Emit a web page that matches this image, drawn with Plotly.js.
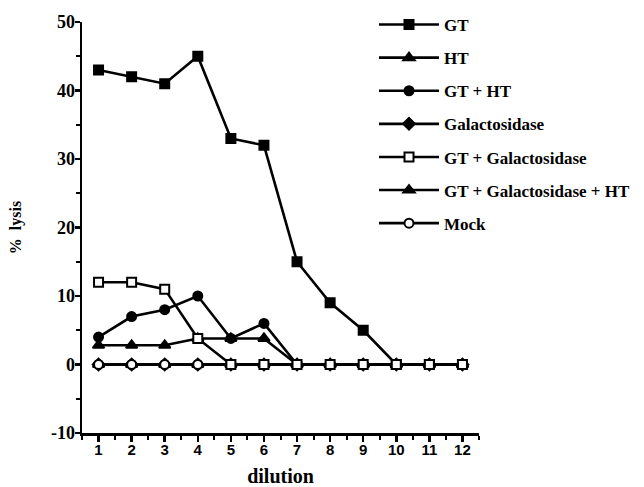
<!DOCTYPE html>
<html>
<head>
<meta charset="utf-8">
<script src="https://cdn.plot.ly/plotly-3.0.1.min.js"></script>
<style>html,body{margin:0;padding:0;background:#fff;}#chart{width:644px;height:487px;}</style>
</head>
<body>
<div id="chart"></div>
<script>
const dilution = [1, 2, 3, 4, 5, 6, 7, 8, 9, 10, 11, 12];
const gt = [43, 42, 41, 45, 33, 32, 15, 9, 5, 0, 0, 0];
const ht = [2.8, 2.8, 2.8, 3.8, 3.8, 3.8, 0, 0, 0, 0, 0, 0];
const gtHt = [4, 7, 8, 10, 3.8, 6, 0, 0, 0, 0, 0, 0];
const galactosidase = [0, 0, 0, 0, 0, 0, 0, 0, 0, 0, 0, 0];
const gtGal = [12, 12, 11, 3.8, 0, 0, 0, 0, 0, 0, 0, 0];
const gtGalHt = [0, 0, 0, 0, 0, 0, 0, 0, 0, 0, 0, 0];
const mock = [0, 0, 0, 0, 0, 0, 0, 0, 0, 0, 0, 0];
const seriesNames = ["GT", "HT", "GT + HT", "Galactosidase", "GT + Galactosidase", "GT + Galactosidase + HT", "Mock"];
const yTickVals = [-10, 0, 10, 20, 30, 40, 50];
const yTickText = ["-10", "0", "10", "20", "30", "40", "50"];
const xTickVals = [1, 2, 3, 4, 5, 6, 7, 8, 9, 10, 11, 12];

function tr(y, name, rank, symbol, fill) {
  return {
    x: dilution, y: y, name: name, type: 'scatter', mode: 'lines+markers',
    legendrank: rank, legendgroup: name,
    line: {color: '#000', width: 2.6},
    marker: {symbol: symbol, size: symbol.indexOf('triangle') === 0 ? 10 : 9, color: fill, line: {color: '#000', width: 2}}
  };
}
const data = [
  tr(gt, seriesNames[0], 1, 'square', '#000'),
  tr(ht, seriesNames[1], 2, 'triangle-up', '#000'),
  tr(gtHt, seriesNames[2], 3, 'circle', '#000'),
  tr(galactosidase, seriesNames[3], 4, 'diamond', '#000'),
  tr(gtGalHt, seriesNames[5], 6, 'triangle-up', '#000'),
  tr(mock, seriesNames[6], 7, 'circle', '#fff'),
  tr(gtGal, seriesNames[4], 5, 'square', '#fff')
];
const layout = {
  width: 644, height: 487,
  margin: {l: 82, r: 165, t: 22, b: 54, autoexpand: false},
  paper_bgcolor: '#fff', plot_bgcolor: '#fff',
  showlegend: true,
  legend: {
    xref: 'container', yref: 'container', x: 374/644, y: 1 - 7/487, xanchor: 'left', yanchor: 'top',
    font: {family: 'Liberation Serif, Times New Roman, serif', size: 17, color: '#000', weight: 'bold'},
    itemwidth: 60, tracegroupgap: 8, traceorder: 'grouped', bgcolor: 'rgba(0,0,0,0)'
  },
  xaxis: {
    range: [0.5, 12.5], tickvals: xTickVals, ticks: 'outside', ticklen: 6, tickwidth: 2.5, tickcolor: '#000',
    minor: {dtick: 0.5, tick0: 0.5, ticks: 'outside', ticklen: 4, tickwidth: 2, tickcolor: '#000'},
    showline: true, linewidth: 2.5, linecolor: '#000', showgrid: false, zeroline: false,
    ticklabelstandoff: -5,
    tickfont: {family: 'Liberation Sans, Arial, sans-serif', size: 15, color: '#000', weight: 'bold'},
    title: {text: '<b>dilution</b>', font: {family: 'Liberation Serif, Times New Roman, serif', size: 20, color: '#000'}, standoff: 16}
  },
  yaxis: {
    range: [-10, 50], tickvals: yTickVals, ticktext: yTickText, ticks: 'outside', ticklen: 5, tickwidth: 2.5, tickcolor: '#000',
    minor: {dtick: 5, tick0: 0, ticks: 'outside', ticklen: 4, tickwidth: 2, tickcolor: '#000'},
    showline: true, linewidth: 2.5, linecolor: '#000', showgrid: false, zeroline: false,
    ticklabelstandoff: -4,
    tickfont: {family: 'Liberation Serif, Times New Roman, serif', size: 18, color: '#000', weight: 'bold'},
    title: {text: '<b>%  lysis</b>', font: {family: 'Liberation Serif, Times New Roman, serif', size: 16, color: '#000'}, standoff: 26}
  }
};
Plotly.newPlot('chart', data, layout, {displayModeBar: false, staticPlot: true});
</script>
</body>
</html>
